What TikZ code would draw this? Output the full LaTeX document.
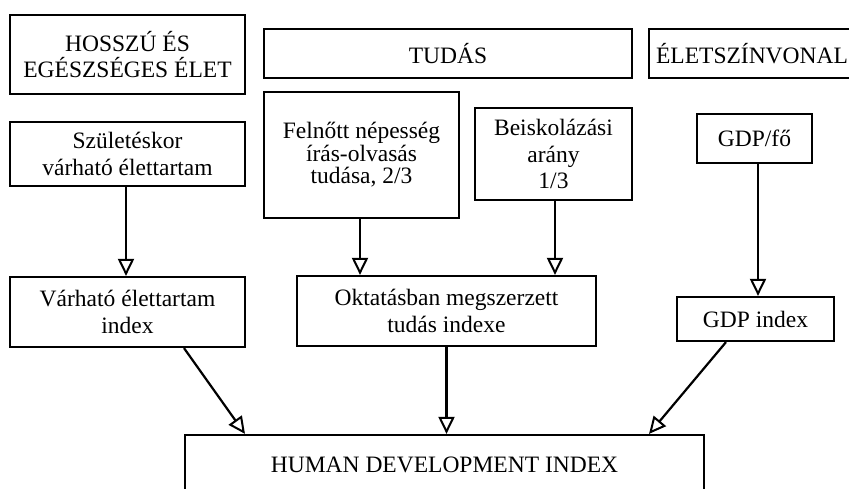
\documentclass[tikz,border=0pt]{standalone}
\usepackage{fontspec}
\setmainfont{Liberation Serif}
\usetikzlibrary{arrows.meta}
\begin{document}
\begin{tikzpicture}[x=1pt,y=-1pt,
  every node/.style={font=\fontsize{23.5}{26.5}\selectfont},
  box/.style={draw,line width=2.2pt,inner sep=0pt,align=center},
  conn/.style={line width=2.2pt,-{Triangle[length=17pt,width=16pt,fill=white,line width=2pt]}}]
\useasboundingbox (0,0) rectangle (849,488);
\node[box,minimum width=235,minimum height=79] (hossz) at (127.5,54.5) {HOSSZÚ ÉS\\EGÉSZSÉGES ÉLET};
\node[box,minimum width=368,minimum height=49] (tudas) at (448,53.5) {TUDÁS};
\node[box,minimum width=206,minimum height=49] (elet) at (752,53.5) {ÉLETSZÍNVONAL};
\node[box,minimum width=235,minimum height=64] (szul) at (127.5,154) {Születéskor\\várható élettartam};
\node[box,minimum width=195,minimum height=126,font=\fontsize{23.5}{22.5}\selectfont] (felnott) at (361.5,155) {Felnőtt népesség\\írás-olvasás\\tudása, 2/3};
\node[box,minimum width=157,minimum height=92] (beisk) at (553.5,154) {Beiskolázási\\arány\\1/3};
\node[box,minimum width=115,minimum height=49] (gdpfo) at (754.5,138.5) {GDP/fő};
\node[box,minimum width=235,minimum height=70] (varhato) at (127.5,312) {Várható élettartam\\index};
\node[box,minimum width=299,minimum height=70] (oktatas) at (446.5,311) {Oktatásban megszerzett\\tudás indexe};
\node[box,minimum width=157,minimum height=44] (gdpidx) at (755.5,319) {GDP index};
\node[box,minimum width=519,minimum height=60] (hdi) at (444.5,465) {HUMAN DEVELOPMENT INDEX};
\draw[conn] ([xshift=-1.5]szul.south) -- ([xshift=-1.5]varhato.north);
\draw[conn] ([xshift=-1.5]felnott.south) -- ([xshift=-1.5]felnott.south |- oktatas.north);
\draw[conn] ([xshift=1.5]beisk.south) -- ([xshift=1.5]beisk.south |- oktatas.north);
\draw[conn] ([xshift=3.5]gdpfo.south) -- ([xshift=3.5]gdpfo.south |- gdpidx.north);
\draw[conn] ([xshift=56.5]varhato.south) -- ([xshift=-199.5]hdi.north);
\draw[conn] (oktatas.south) -- (oktatas.south |- hdi.north);
\draw[conn] ([xshift=-29.5]gdpidx.south) -- ([xshift=204.5]hdi.north);
\end{tikzpicture}
\end{document}
